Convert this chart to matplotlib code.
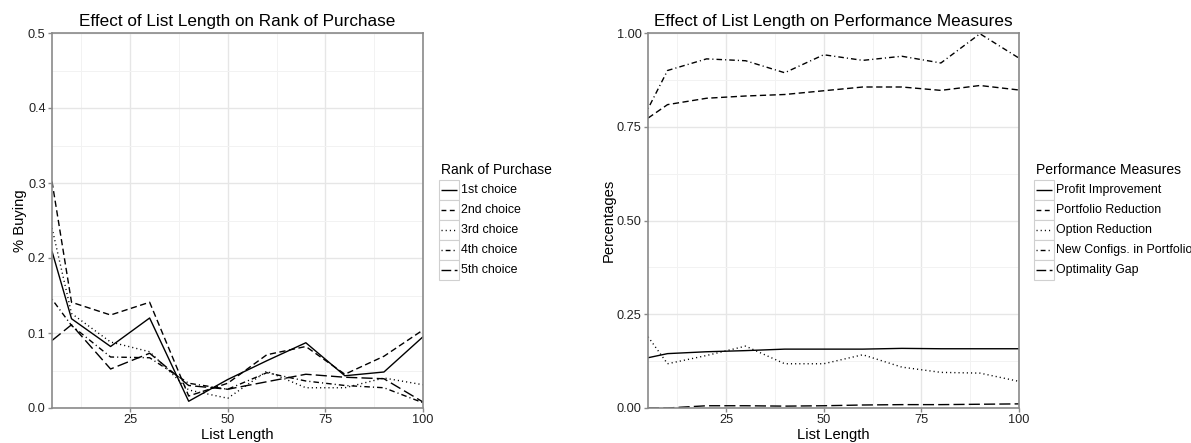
import matplotlib
matplotlib.use("Agg")
import matplotlib.pyplot as plt
from matplotlib.lines import Line2D
from matplotlib.patches import Rectangle

plt.rcParams['font.family'] = ['Liberation Sans', 'DejaVu Sans']

# ---------------- data ----------------
list_length = [5, 10, 20, 30, 40, 50, 60, 70, 80, 90, 100]

rank_labels = ["1st choice", "2nd choice", "3rd choice", "4th choice", "5th choice"]
rank_1st = [0.209, 0.119, 0.082, 0.120, 0.009, 0.038, 0.063, 0.087, 0.043, 0.048, 0.095]
rank_2nd = [0.302, 0.141, 0.124, 0.141, 0.016, 0.033, 0.071, 0.082, 0.045, 0.069, 0.104]
rank_3rd = [0.240, 0.126, 0.088, 0.075, 0.024, 0.013, 0.049, 0.027, 0.027, 0.040, 0.031]
rank_4th = [0.145, 0.110, 0.068, 0.067, 0.033, 0.025, 0.047, 0.036, 0.030, 0.027, 0.007]
rank_5th = [0.090, 0.111, 0.052, 0.073, 0.030, 0.025, 0.035, 0.045, 0.041, 0.039, 0.008]
rank_series = [rank_1st, rank_2nd, rank_3rd, rank_4th, rank_5th]

perf_labels = ["Profit Improvement", "Portfolio Reduction", "Option Reduction",
               "New Configs. in Portfolio", "Optimality Gap"]
profit_improvement = [0.134, 0.145, 0.150, 0.153, 0.157, 0.157, 0.157, 0.159, 0.158, 0.158, 0.158]
portfolio_reduction = [0.773, 0.809, 0.826, 0.832, 0.836, 0.846, 0.856, 0.856, 0.847, 0.860, 0.848]
option_reduction = [0.190, 0.118, 0.140, 0.165, 0.118, 0.118, 0.142, 0.109, 0.095, 0.093, 0.071]
new_configs = [0.798, 0.900, 0.931, 0.926, 0.894, 0.942, 0.927, 0.938, 0.920, 0.998, 0.933]
optimality_gap = [0.000, 0.000, 0.006, 0.006, 0.005, 0.006, 0.008, 0.009, 0.009, 0.010, 0.011]
perf_series = [profit_improvement, portfolio_reduction, option_reduction, new_configs, optimality_gap]

left_yticks = [0.0, 0.1, 0.2, 0.3, 0.4, 0.5]
left_yticklabels = ["0.0", "0.1", "0.2", "0.3", "0.4", "0.5"]
right_yticks = [0.0, 0.25, 0.5, 0.75, 1.0]
right_yticklabels = ["0.00", "0.25", "0.50", "0.75", "1.00"]
xticks = [25, 50, 75, 100]

# ---------------- styles ----------------
LW = 1.0
styles = [
    (0, ()),                      # solid
    (0, (4.5, 2.5)),              # dashed
    (0, (0.8, 2.2)),              # dotted
    (0, (0.8, 2.2, 4.0, 2.2)),    # dotdash
    (0, (8.0, 3.0)),              # longdash
]
key_styles = [
    (0, ()),
    (0, (3.5, 2.5)),
    (0, (0.8, 2.2)),
    (0, (0.8, 2.2, 3.5, 2.2)),
    (0, (7.0, 2.5)),
]

W, H = 1191, 443
DPI = 100
fig = plt.figure(figsize=(W / DPI, H / DPI), dpi=DPI)

BORDER = '#8a8a8a'
GRID_MAJ = '#e6e6e6'
GRID_MIN = '#f2f2f2'


def fx(px):
    return px / W


def fy(py):
    return 1 - py / H


def style_axes(ax, ylim, yticks, yticklabels, yminor):
    ax.set_xlim(5, 100)
    ax.set_ylim(*ylim)
    ax.set_xticks(xticks)
    ax.set_xticklabels([str(t) for t in xticks])
    ax.set_xticks([12.5, 37.5, 62.5, 87.5], minor=True)
    ax.set_yticks(yticks)
    ax.set_yticklabels(yticklabels)
    ax.set_yticks(yminor, minor=True)
    ax.grid(True, which='major', color=GRID_MAJ, linewidth=1.0)
    ax.grid(True, which='minor', color=GRID_MIN, linewidth=0.7)
    ax.set_axisbelow(True)
    for s in ax.spines.values():
        s.set_color(BORDER)
        s.set_linewidth(1.2)
    ax.tick_params(which='major', length=3, width=1.0, color=BORDER,
                   labelsize=9.2, labelcolor='#222222', pad=1.5)
    ax.tick_params(which='minor', length=0)


def draw_legend(x0, title, labels):
    # x0: left pixel of key boxes
    fig.text(fx(x0 + 2), fy(170), title, fontsize=10, va='center', ha='left')
    for i, lab in enumerate(labels):
        ytop = 180 + 20 * i
        rect = Rectangle((fx(x0), fy(ytop + 20)), fx(20), 20 / H,
                         transform=fig.transFigure, facecolor='white',
                         edgecolor='#d0d0d0', linewidth=0.8)
        fig.add_artist(rect)
        ln = Line2D([fx(x0 + 2), fx(x0 + 18)], [fy(ytop + 10)] * 2,
                    transform=fig.transFigure, color='black', linewidth=LW,
                    linestyle=key_styles[i])
        fig.add_artist(ln)
        fig.text(fx(x0 + 22), fy(ytop + 10), lab, fontsize=8.9,
                 va='center', ha='left')


# ---------------- left panel ----------------
axL = fig.add_axes([fx(52), fy(408), fx(371), 375 / H])
for vals, ls in zip(rank_series, styles):
    axL.plot(list_length, vals, color='black', linewidth=LW, linestyle=ls,
             clip_on=True)
style_axes(axL, (0, 0.5), left_yticks, left_yticklabels,
           [0.05, 0.15, 0.25, 0.35, 0.45])
axL.set_title("Effect of List Length on Rank of Purchase", fontsize=12.3, pad=5)
axL.set_xlabel("List Length", fontsize=10.6, labelpad=1)
axL.set_ylabel("% Buying", fontsize=10.6, labelpad=1)
draw_legend(439, "Rank of Purchase", rank_labels)

# ---------------- right panel ----------------
axR = fig.add_axes([fx(648), fy(408), fx(371), 375 / H])
for vals, ls in zip(perf_series, styles):
    axR.plot(list_length, vals, color='black', linewidth=LW, linestyle=ls,
             clip_on=True)
style_axes(axR, (0, 1.0), right_yticks, right_yticklabels,
           [0.125, 0.375, 0.625, 0.875])
axR.set_title("Effect of List Length on Performance Measures", fontsize=12.3, pad=5)
axR.set_xlabel("List Length", fontsize=10.6, labelpad=1)
axR.set_ylabel("Percentages", fontsize=10.6, labelpad=1)
draw_legend(1034, "Performance Measures", perf_labels)

fig.savefig("out.png", dpi=DPI)
